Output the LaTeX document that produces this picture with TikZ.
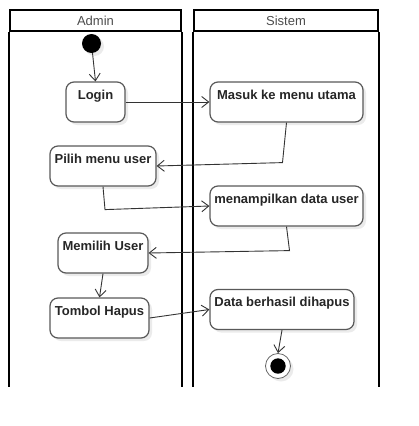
\documentclass[tikz,border=0pt]{standalone}
\usepackage{fontspec}
\setmainfont{Liberation Sans}
\usetikzlibrary{positioning,arrows.meta,shadows}
\tikzset{
  act/.style={rectangle,draw=black!65,fill=white,line width=1.2pt,rounded corners=8pt,
    align=center,inner xsep=2pt,inner ysep=0pt,text height=17pt,text depth=23pt,
    font=\fontsize{13}{15}\selectfont\bfseries,text=black!85,
    drop shadow={shadow xshift=3pt,shadow yshift=-3pt,fill=black!8,opacity=1}},
  lanehead/.style={rectangle,draw=black,line width=2pt,minimum height=21pt,
    inner sep=0pt,font=\fontsize{13}{15}\selectfont,text=black!70},
  lane/.style={line width=2pt},
  startnode/.style={circle,fill=black,minimum size=19pt,inner sep=0pt,
    drop shadow={shadow xshift=3pt,shadow yshift=-3pt,fill=black!8,opacity=1}},
  stopnode/.style={circle,draw=black!60,fill=white,line width=0.8pt,minimum size=25pt,inner sep=0pt,
    drop shadow={shadow xshift=3pt,shadow yshift=-3pt,fill=black!8,opacity=1},
    path picture={\fill[black] (path picture bounding box.center) circle (7.7pt);}},
  flow/.style={-{Straight Barb[length=7pt,width=11pt]},line width=0.9pt,draw=black!80},
}
\begin{document}
\begin{tikzpicture}[x=1pt,y=-1pt]
  \useasboundingbox (0,0) rectangle (418,426);
  \node[lanehead,minimum width=171pt] (adminhead) at (95.5,20.5) {Admin};
  \node[lanehead,minimum width=184pt] (sistemhead) at (286,20.5) {Sistem};
  \draw[lane] (adminhead.south west) -- ++(0,355);
  \draw[lane] (adminhead.south east) -- ++(0,355);
  \draw[lane] (sistemhead.south west) -- ++(0,355);
  \draw[lane] (sistemhead.south east) -- ++(0,355);

  \node[startnode] (start) at (91.5,43.5) {};
  \node[act,minimum width=59pt] (login) at (95.5,102) {Login};
  \node[act,minimum width=153pt] (masuk) at (286.5,102) {Masuk ke menu utama};
  \node[act,minimum width=106pt] (pilih) at (103,166) {Pilih menu user};
  \node[act,minimum width=153pt] (tampil) at (286.5,206) {menampilkan data user};
  \node[act,minimum width=90pt] (memilih) at (103,253) {Memilih User};
  \node[act,minimum width=99pt] (tombol) at (99.5,318) {Tombol Hapus};
  \node[act,minimum width=144pt] (hapus) at (282,309.5) {Data berhasil dihapus};
  \node[stopnode] (stop) at (278,366) {};

  \draw[flow] (start) -- (login.north);
  \draw[flow] (login.east) -- (masuk.west);
  \draw[flow] (masuk.south) -- ++(-4,40) -- (pilih.east);
  \draw[flow] (pilih.south) -- ++(2,23) -- (tampil.west);
  \draw[flow] (tampil.south) -- ++(3,24) -- (memilih.east);
  \draw[flow] (memilih.south) -- (tombol.north);
  \draw[flow] (tombol.east) -- (hapus.west);
  \draw[flow] (hapus.south) -- (stop.north);
\end{tikzpicture}
\end{document}
